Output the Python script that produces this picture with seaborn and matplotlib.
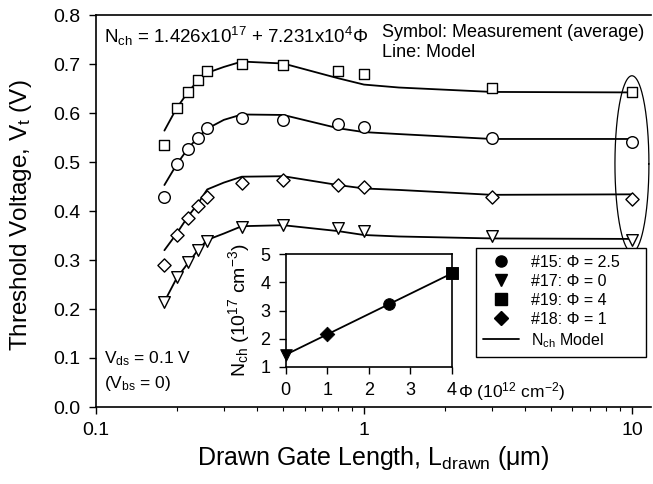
import numpy as np
import pandas as pd
import matplotlib
matplotlib.use("Agg")
import matplotlib.pyplot as plt
from matplotlib.lines import Line2D
import seaborn as sns

# ---- data ----
L_meas = [0.18, 0.2, 0.22, 0.24, 0.26, 0.35, 0.5, 0.8, 1.0, 3.0, 10.0]
vt_sq = [0.535, 0.610, 0.642, 0.667, 0.686, 0.700, 0.698, 0.686, 0.680, 0.652, 0.642]  # #19 Phi=4
vt_ci = [0.428, 0.495, 0.527, 0.550, 0.569, 0.589, 0.586, 0.577, 0.571, 0.548, 0.540]  # #15 Phi=2.5
vt_di = [0.289, 0.352, 0.385, 0.410, 0.428, 0.458, 0.463, 0.454, 0.448, 0.429, 0.424]  # #18 Phi=1
vt_tr = [0.215, 0.266, 0.295, 0.320, 0.339, 0.368, 0.372, 0.365, 0.359, 0.348, 0.341]  # #17 Phi=0

L_model = [0.18, 0.2, 0.22, 0.24, 0.26, 0.3, 0.35, 0.5, 0.8, 1.0, 1.35, 3.0, 10.0]
mod_sq = [0.564, 0.610, 0.642, 0.666, 0.682, 0.694, 0.705, 0.701, 0.671, 0.658, 0.652, 0.643, 0.642]
mod_ci = [0.453, 0.495, 0.527, 0.550, 0.568, 0.586, 0.597, 0.596, 0.569, 0.561, 0.557, 0.547, 0.547]
mod_di = [0.320, 0.354, 0.388, 0.415, 0.444, 0.458, 0.470, 0.471, 0.453, 0.446, 0.443, 0.433, 0.434]
mod_tr = [0.215, 0.263, 0.293, 0.320, 0.341, 0.354, 0.369, 0.371, 0.359, 0.351, 0.348, 0.344, 0.343]

phi_pts = [0.0, 1.0, 2.5, 4.0]
nch_pts = [1.426, 2.15, 3.23, 4.32]
pts_markers = ["v", "D", "o", "s"]
phi_line = [0.0, 4.0]
nch_line = [1.426, 4.318]

x_ticks = [0.1, 1, 10]
x_ticklabels = ["0.1", "1", "10"]
y_ticks = [0.0, 0.1, 0.2, 0.3, 0.4, 0.5, 0.6, 0.7, 0.8]
y_ticklabels = ["0.0", "0.1", "0.2", "0.3", "0.4", "0.5", "0.6", "0.7", "0.8"]
in_x_ticks = [0, 1, 2, 3, 4]
in_y_ticks = [1, 2, 3, 4, 5]

legend_labels = ["#15: Φ = 2.5", "#17: Φ = 0", "#19: Φ = 4", "#18: Φ = 1", r"N$_{\rm ch}$ Model"]
legend_markers = ["o", "v", "s", "D"]

# ---- style ----
sns.set_theme(style="ticks")
plt.rcParams.update({
    "font.family": ["Liberation Sans", "DejaVu Sans"],
    "mathtext.fontset": "custom",
    "mathtext.rm": "Liberation Sans",
    "mathtext.it": "Liberation Sans:italic",
    "mathtext.bf": "Liberation Sans:bold",
    "axes.edgecolor": "black",
    "axes.linewidth": 1.2,
    "xtick.color": "black",
    "ytick.color": "black",
    "text.color": "black",
    "axes.labelcolor": "black",
})

W, H = 653, 484
fig = plt.figure(figsize=(W / 100, H / 100), dpi=100)
ax = fig.add_axes([96 / W, 1 - 407 / H, (651 - 96) / W, (407 - 15) / H])

meas = pd.DataFrame({"L": L_meas * 4,
                     "Vt": vt_sq + vt_ci + vt_di + vt_tr,
                     "dev": ["sq"] * 11 + ["ci"] * 11 + ["di"] * 11 + ["tr"] * 11})
model = pd.DataFrame({"L": L_model * 4,
                      "Vt": mod_sq + mod_ci + mod_di + mod_tr,
                      "dev": ["sq"] * 13 + ["ci"] * 13 + ["di"] * 13 + ["tr"] * 13})

for dev in ["sq", "ci", "di", "tr"]:
    d = model[model.dev == dev]
    sns.lineplot(data=d, x="L", y="Vt", color="black", lw=1.3, ax=ax,
                 estimator=None, sort=False)

mk = {"sq": ("s", 55), "ci": ("o", 70), "di": ("D", 45), "tr": ("v", 70)}
for dev, (m, s) in mk.items():
    d = meas[meas.dev == dev]
    sns.scatterplot(data=d, x="L", y="Vt", marker=m, s=s, color="white",
                    edgecolor="black", linewidth=1.0, ax=ax, zorder=3, clip_on=False)

# ellipse around the 10 um points
t = np.linspace(0, 2 * np.pi, 300)
ax.plot(10 ** (1 + 0.0634 * np.cos(t)), 0.496 + 0.18 * np.sin(t), color="black", lw=0.9)

ax.set_xscale("log")
ax.set_xlim(0.1, 11.78)
ax.set_ylim(0.0, 0.8)
ax.set_xticks(x_ticks)
ax.set_xticklabels(x_ticklabels)
ax.set_yticks(y_ticks)
ax.set_yticklabels(y_ticklabels)
ax.tick_params(which="major", direction="out", length=5, width=1, labelsize=14, pad=6)
ax.tick_params(which="minor", direction="out", length=3, width=0.8)
ax.tick_params(axis="y", which="minor", left=False)
ax.spines["right"].set_visible(False)

ax.set_xlabel(r"Drawn Gate Length, L$_{\rm drawn}$ (μm)", fontsize=18)
ax.set_ylabel(r"Threshold Voltage, V$_{\rm t}$ (V)", fontsize=17.5)
ax.xaxis.set_label_coords(0.499, -0.095)
ax.yaxis.set_label_coords(-0.112, 0.49)

ax.text(0.0144, 0.929, r"N$_{\rm ch}$ = 1.426x10$^{17}$ + 7.231x10$^{4}$Φ",
        transform=ax.transAxes, fontsize=13.5, va="baseline", ha="left")
ax.text(0.515, 0.943, "Symbol: Measurement (average)", transform=ax.transAxes,
        fontsize=13, va="baseline", ha="left")
ax.text(0.515, 0.894, "Line: Model", transform=ax.transAxes,
        fontsize=13, va="baseline", ha="left")
ax.text(0.0144, 0.112, r"V$_{\rm ds}$ = 0.1 V", transform=ax.transAxes,
        fontsize=12.5, va="baseline", ha="left")
ax.text(0.0144, 0.048, r"(V$_{\rm bs}$ = 0)", transform=ax.transAxes,
        fontsize=12.5, va="baseline", ha="left")

handles = [Line2D([], [], marker=m, color="black", ls="none", markersize=8 if m != "D" else 7)
           for m in legend_markers]
handles.append(Line2D([], [], color="black", lw=1.3))
leg = ax.legend(handles, legend_labels, loc="upper left",
                bbox_to_anchor=(0.685, 0.125, 0.306, 0.281), mode="expand",
                fontsize=11.5, frameon=True, fancybox=False, edgecolor="black",
                framealpha=1, borderpad=0.45, labelspacing=0.25, handlelength=2.2,
                handletextpad=0.8, borderaxespad=0)
leg.get_frame().set_linewidth(1.0)

# ---- inset ----
axi = fig.add_axes([285.7 / W, 1 - 366.7 / H, 166 / W, 112.4 / H])
sns.lineplot(x=phi_line, y=nch_line, color="black", lw=1.3, ax=axi)
for p, n, m in zip(phi_pts, nch_pts, pts_markers):
    sns.scatterplot(x=[p], y=[n], marker=m, s=70 if m != "D" else 55, color="black",
                    edgecolor="black", ax=axi, zorder=3, clip_on=False)
axi.set_xlim(0, 4)
axi.set_ylim(1, 5)
axi.set_xticks(in_x_ticks)
axi.set_yticks(in_y_ticks)
axi.tick_params(direction="out", length=5, width=1, labelsize=13, pad=6)
for s in axi.spines.values():
    s.set_linewidth(1.2)
axi.set_ylabel(r"N$_{\rm ch}$ (10$^{17}$ cm$^{-3}$)", fontsize=14, labelpad=6)
axi.text(1.04, -0.225, r"Φ (10$^{12}$ cm$^{-2}$)", transform=axi.transAxes,
         fontsize=12.5, va="center", ha="left")

fig.savefig("out.png", dpi=100)
